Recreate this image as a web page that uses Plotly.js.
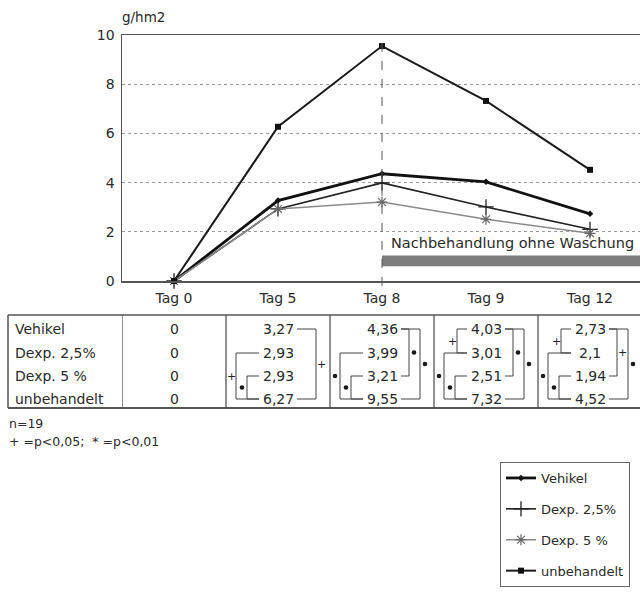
<!DOCTYPE html>
<html><head><meta charset="utf-8">
<script src="https://cdn.plot.ly/plotly-3.0.1.min.js"></script>
<style>html,body{margin:0;padding:0;overflow:hidden;background:#fff}#chart{width:662px;height:594px}</style>
</head><body><div id="chart"></div>
<script>
// ---- data ----
const days = ['Tag 0', 'Tag 5', 'Tag 8', 'Tag 9', 'Tag 12'];
const seriesNames = ['Vehikel', 'Dexp. 2,5%', 'Dexp. 5 %', 'unbehandelt'];
const vehikel = [0, 3.27, 4.36, 4.03, 2.73];
const dexp25 = [0, 2.93, 3.99, 3.01, 2.1];
const dexp5 = [0, 2.93, 3.21, 2.51, 1.94];
const unbehandelt = [0, 6.27, 9.55, 7.32, 4.52];
const yTicks = [0, 2, 4, 6, 8, 10];
const yUnit = 'g/hm2';
// significance comparisons per day: [rowA, rowB, symbol]
const sigTag0 = [];
const sigTag5 = [[0, 3, '+'], [1, 3, '+'], [2, 3, '*']];
const sigTag8 = [[0, 2, '*'], [0, 3, '*'], [1, 3, '*'], [2, 3, '*']];
const sigTag9 = [[0, 1, '+'], [0, 2, '*'], [0, 3, '*'], [1, 3, '*'], [2, 3, '*']];
const sigTag12 = [[0, 1, '+'], [0, 2, '+'], [0, 3, '*'], [1, 3, '*'], [2, 3, '*']];
const phaseText = 'Nachbehandlung ohne Waschung';
const phaseStartDay = 'Tag 8';
const nText = 'n=19';
const pText = '+ =p<0,05;  * =p<0,01';

// ---- layout helpers ----
const FONT = 'DejaVu Sans, Verdana, sans-serif';
const TXT = '#2a2a2a';
const W = 662, H = 594;
const U = 104;                 // px per category step
const PL = 122, PT = 35, PH = 246;
const yp = p => (PT + PH - p) / PH;        // pixel row -> paper y
const xp = p => (p - PL) / (5 * U);        // pixel col -> paper x
const rowPx = [329, 353, 376, 399];
const allSeries = [vehikel, dexp25, dexp5, unbehandelt];
const allSig = [sigTag0, sigTag5, sigTag8, sigTag9, sigTag12];
const fmt = v => String(v).replace('.', ',');

const traceStyles = [
  {line: {color: '#111', width: 2.8}, marker: {symbol: 'diamond', size: 5, color: '#111'}},
  {line: {color: '#222', width: 1.6}, marker: {symbol: 'cross-thin-open', size: 11, color: '#222', line: {width: 1.3, color: '#222'}}},
  {line: {color: '#8a8a8a', width: 1.5}, marker: {symbol: 'asterisk-open', size: 9, color: '#666', line: {width: 1.2, color: '#666'}}},
  {line: {color: '#1a1a1a', width: 2}, marker: {symbol: 'square', size: 6, color: '#111'}}
];

const traces = allSeries.map((ys, i) => Object.assign({
  type: 'scatter', mode: 'lines+markers', x: days, y: ys, name: seriesNames[i],
  legendgroup: 'g' + i, cliponaxis: false
}, traceStyles[i]));

const shapes = [];
const annotations = [];
const lineC = '#555';

// phase marker: dashed vertical line + grey bar
const phaseIdx = days.indexOf(phaseStartDay);
shapes.push({type: 'line', xref: 'x', yref: 'paper', x0: phaseIdx, x1: phaseIdx, y0: -0.02, y1: 1,
  line: {color: '#555', width: 1, dash: 'dash'}});
shapes.push({type: 'rect', xref: 'x', yref: 'y', x0: phaseIdx, x1: 4.6, y0: 0.6, y1: 1.04,
  fillcolor: '#7d7d7d', line: {width: 0}, layer: 'below'});
annotations.push({xref: 'x', yref: 'y', x: phaseIdx, y: 1.55, xshift: 7, xanchor: 'left', yanchor: 'middle',
  text: phaseText, showarrow: false, font: {family: FONT, size: 14.5, color: TXT}});

// unit label
annotations.push({xref: 'paper', yref: 'paper', x: xp(120), y: yp(17), xanchor: 'left', yanchor: 'middle',
  text: yUnit, showarrow: false, font: {family: FONT, size: 13.5, color: TXT}});

// ---- table below the chart ----
const tTop = 315, tBot = 408, tLeft = 8;
shapes.push({type: 'line', xref: 'paper', yref: 'paper', x0: xp(tLeft), x1: 1.02, y0: yp(tTop), y1: yp(tTop), line: {color: lineC, width: 1.5}});
shapes.push({type: 'line', xref: 'paper', yref: 'paper', x0: xp(tLeft), x1: 1.02, y0: yp(tBot), y1: yp(tBot), line: {color: lineC, width: 2}});
shapes.push({type: 'line', xref: 'paper', yref: 'paper', x0: xp(tLeft), x1: xp(tLeft), y0: yp(tTop), y1: yp(tBot), line: {color: lineC, width: 1.5}});
for (let c = 0; c < days.length; c++) {
  shapes.push({type: 'line', xref: 'x', yref: 'paper', x0: c - 0.5, x1: c - 0.5, y0: yp(tTop), y1: yp(tBot), line: {color: lineC, width: 1.3}});
}
// row labels
seriesNames.forEach((nm, r) => {
  annotations.push({xref: 'paper', yref: 'paper', x: xp(13), y: yp(rowPx[r]), xanchor: 'left', yanchor: 'middle',
    text: nm, showarrow: false, font: {family: FONT, size: 14, color: TXT}});
});
// values
allSeries.forEach((ys, r) => {
  ys.forEach((v, c) => {
    annotations.push({xref: 'x', yref: 'paper', x: c, y: yp(rowPx[r]), xanchor: 'center', yanchor: 'middle',
      text: fmt(v), showarrow: false, font: {family: FONT, size: 14, color: TXT}});
  });
});
// significance brackets
const bracketPos = {'03': [38, 1], '02': [27, 1], '13': [-42, -1], '23': [-31, -1], '01': [-29, -1]};
const bc = '#444';
allSig.forEach((list, c) => {
  list.forEach(([a, b, sym]) => {
    const [off, side] = bracketPos['' + a + b];
    const xv = c + off / U;
    const xs = c + side * 19 / U;
    shapes.push({type: 'line', xref: 'x', yref: 'paper', x0: xv, x1: xv, y0: yp(rowPx[a]), y1: yp(rowPx[b]), line: {color: bc, width: 1}});
    shapes.push({type: 'line', xref: 'x', yref: 'paper', x0: xs, x1: xv, y0: yp(rowPx[a]), y1: yp(rowPx[a]), line: {color: bc, width: 1}});
    shapes.push({type: 'line', xref: 'x', yref: 'paper', x0: xs, x1: xv, y0: yp(rowPx[b]), y1: yp(rowPx[b]), line: {color: bc, width: 1}});
    const mxPx = off + side * 5;
    const myPx = (rowPx[a] + rowPx[b]) / 2;
    if (sym === '*') {
      const r = 2.3;
      shapes.push({type: 'circle', xref: 'x', yref: 'paper', x0: c + (mxPx - r) / U, x1: c + (mxPx + r) / U,
        y0: yp(myPx + r), y1: yp(myPx - r), fillcolor: '#1a1a1a', line: {width: 0}});
    } else {
      annotations.push({xref: 'x', yref: 'paper', x: c + mxPx / U, y: yp(myPx), xanchor: 'center', yanchor: 'middle', showarrow: false,
        text: '+', font: {family: FONT, size: 11, color: '#222'}});
    }
  });
});
// footnotes
annotations.push({xref: 'paper', yref: 'paper', x: xp(7), y: yp(423), xanchor: 'left', yanchor: 'middle',
  text: nText, showarrow: false, font: {family: FONT, size: 12.5, color: TXT}});
annotations.push({xref: 'paper', yref: 'paper', x: xp(7), y: yp(442), xanchor: 'left', yanchor: 'middle',
  text: pText, showarrow: false, font: {family: FONT, size: 12.5, color: TXT}});

const layout = {
  width: W, height: H,
  margin: {l: PL, r: W - PL - 5 * U, t: PT, b: H - PT - PH, autoexpand: false},
  paper_bgcolor: '#fff', plot_bgcolor: '#fff',
  font: {family: FONT, size: 13, color: TXT},
  showlegend: true,
  legend: {x: xp(500), y: yp(462), xanchor: 'left', yanchor: 'top',
    bordercolor: '#666', borderwidth: 1, bgcolor: '#fff', font: {family: FONT, size: 13, color: TXT},
    tracegroupgap: 11, itemwidth: 30},
  xaxis: {type: 'category', range: [-0.5, 4.5], showline: true, mirror: true, linecolor: '#555', linewidth: 1.5,
    showgrid: false, zeroline: false, ticks: '', ticklabelstandoff: 4, tickfont: {family: FONT, size: 14, color: TXT}, fixedrange: true,
    automargin: false},
  yaxis: {range: [0, 10], tickvals: yTicks, showline: true, mirror: true, linecolor: '#555', linewidth: 1.5,
    showgrid: true, gridcolor: '#9a9a9a', griddash: 'dot', gridwidth: 1, zeroline: false, ticks: '',
    ticklabelstandoff: 3, tickfont: {family: FONT, size: 14, color: TXT}, fixedrange: true, automargin: false},
  shapes: shapes, annotations: annotations
};
Plotly.newPlot('chart', traces, layout, {displayModeBar: false, staticPlot: true});
</script>
</body></html>
